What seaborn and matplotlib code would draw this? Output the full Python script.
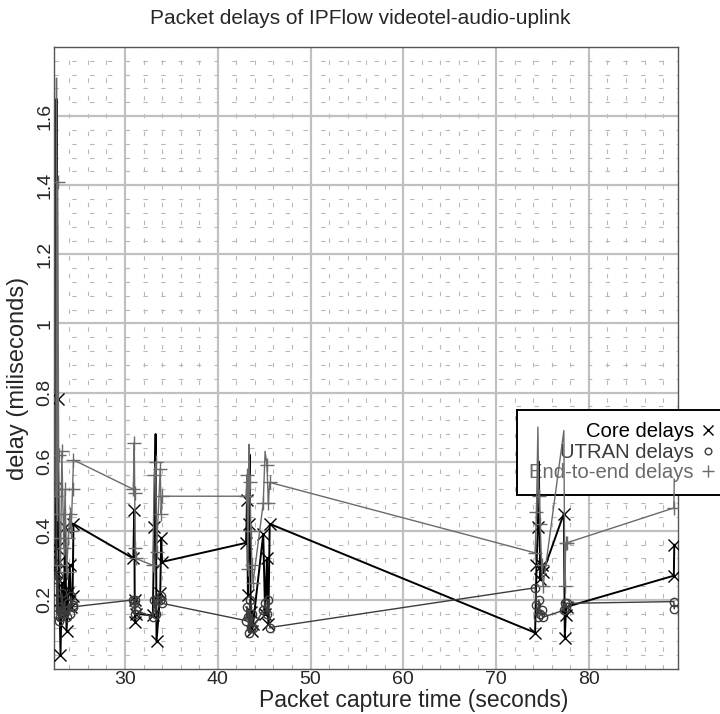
import matplotlib
matplotlib.use("Agg")
import matplotlib.pyplot as plt
import seaborn as sns
import pandas as pd
from matplotlib.ticker import FixedLocator, MultipleLocator, FuncFormatter
from matplotlib.lines import Line2D

# ---- data ----
time_s = [22.55, 22.62, 22.68, 22.75, 22.85, 22.95, 23.05, 23.2, 23.4, 23.55, 23.7, 23.9, 24.05, 24.2, 24.35, 24.45,
          30.9, 31.0, 31.05, 31.1, 31.15,
          33.0, 33.15, 33.3, 33.4, 33.8, 33.9, 34.0,
          43.05, 43.15, 43.25, 43.35, 43.45, 43.55, 43.7, 43.8,
          44.9, 45.1, 45.3, 45.45, 45.6,
          74.2, 74.35, 74.5, 74.6, 74.75, 74.9, 75.05,
          77.3, 77.4, 77.5, 77.6,
          89.15, 89.2]
core_delay = [0.28, 1.65, 0.35, 0.78, 0.31, 0.20, 0.04, 0.25, 0.16, 0.41, 0.11, 0.22, 0.30, 0.18, 0.21, 0.42,
              0.32, 0.46, 0.20, 0.135, 0.16,
              0.155, 0.41, 0.68, 0.08, 0.22, 0.38, 0.31,
              0.365, 0.49, 0.215, 0.42, 0.62, 0.165, 0.11, 0.13,
              0.39, 0.16, 0.32, 0.13, 0.42,
              0.105, 0.30, 0.41, 0.60, 0.26, 0.30, 0.28,
              0.45, 0.09, 0.155, 0.18,
              0.27, 0.36]
utran_delay = [0.26, 0.53, 0.16, 0.27, 0.14, 0.18, 0.15, 0.22, 0.16, 0.17, 0.15, 0.19, 0.16, 0.21, 0.185, 0.18,
               0.20, 0.19, 0.16, 0.20, 0.17,
               0.15, 0.20, 0.16, 0.20, 0.20, 0.21, 0.19,
               0.14, 0.18, 0.15, 0.105, 0.20, 0.12, 0.16, 0.12,
               0.17, 0.19, 0.16, 0.20, 0.12,
               0.235, 0.186, 0.15, 0.20, 0.16, 0.17, 0.15,
               0.17, 0.19, 0.18, 0.19,
               0.195, 0.174]
e2e_delay = [0.50, 1.71, 0.45, 1.41, 0.62, 0.38, 0.30, 0.63, 0.35, 0.52, 0.28, 0.38, 0.45, 0.40, 0.52, 0.605,
             0.52, 0.655, 0.51, 0.35, 0.32,
             0.30, 0.56, 0.60, 0.34, 0.58, 0.45, 0.50,
             0.50, 0.562, 0.29, 0.65, 0.54, 0.40, 0.30, 0.25,
             0.48, 0.63, 0.59, 0.48, 0.54,
             0.336, 0.455, 0.70, 0.50, 0.42, 0.30, 0.24,
             0.69, 0.24, 0.365, 0.365,
             0.466, 0.55]

series_names = ["Core delays", "UTRAN delays", "End-to-end delays"]
x_ticks = [30, 40, 50, 60, 70, 80]
y_ticks = [0.2, 0.4, 0.6, 0.8, 1.0, 1.2, 1.4, 1.6]

df = pd.DataFrame({"t": time_s, "core": core_delay, "utran": utran_delay, "e2e": e2e_delay})

sns.set_style("white")
plt.rcParams["font.family"] = ["Liberation Sans", "DejaVu Sans"]

fig = plt.figure(figsize=(7.2, 7.14), dpi=100)
ax = fig.add_axes([54 / 720, 1 - 669 / 714, (678 - 54) / 720, (669 - 47) / 714])

n = len(time_s)
skip = {"core": {1, 23, 32, 44}, "utran": set(), "e2e": {1, 31, 37, 43, 48, 53}}
styles = [
    ("core", "black", "x", 1.4, 9, 3),
    ("utran", "#3c3c3c", "o", 1.0, 6, 4),
    ("e2e", "#6a6a6a", "+", 1.0, 10, 5),
]
for col, color, marker, lw, ms, z in styles:
    every = [i for i in range(n) if i not in skip[col]]
    sns.lineplot(data=df, x="t", y=col, ax=ax, color=color, marker=marker,
                 markersize=ms, markeredgewidth=1.0, markerfacecolor="none",
                 markeredgecolor=color, linewidth=lw, estimator=None,
                 sort=False, zorder=z, legend=False, markevery=every)

ax.set_xlim(22.35, 89.6)
ax.set_ylim(0.0, 1.80)

ax.xaxis.set_major_locator(FixedLocator(x_ticks))
ax.yaxis.set_major_locator(FixedLocator(y_ticks))
ax.xaxis.set_minor_locator(MultipleLocator(2))
ax.yaxis.set_minor_locator(MultipleLocator(0.04))
ax.yaxis.set_major_formatter(FuncFormatter(lambda v, p: f"{v:g}"))

ax.set_axisbelow(True)
ax.grid(which="major", color="#c0c0c0", linewidth=1.6, linestyle="-")
ax.grid(which="minor", color="#b8b8b8", linewidth=0.8, linestyle=(0, (4, 12)))

ax.tick_params(axis="both", which="major", direction="inout", length=7, width=2.2,
               color="black", labelsize=14)
ax.tick_params(axis="x", which="major", pad=-2)
ax.tick_params(axis="y", which="major", pad=-3)
ax.tick_params(axis="both", which="minor", length=0)
for lab in ax.get_yticklabels():
    lab.set_rotation(90)
    lab.set_va("center")

for s in ax.spines.values():
    s.set_color("#555555")
    s.set_linewidth(1.0)
    s.set_zorder(1)

ax.set_xlabel("Packet capture time (seconds)", fontsize=16.5)
ax.xaxis.set_label_coords((414 - 54) / 624, -(701 - 669) / 622)
ax.xaxis.label.set_va("center")
ax.set_ylabel("delay (miliseconds)", fontsize=17)
ax.yaxis.set_label_coords(-(54 - 18) / 624, (669 - 378) / 622)
ax.yaxis.label.set_va("center")
fig.text(0.5, 1 - 18 / 714, "Packet delays of IPFlow videotel-audio-uplink",
         ha="center", va="center", fontsize=15)

handles = [Line2D([], [], color=c, marker=m, linestyle="none", markersize=ms * 0.8,
                  markerfacecolor="none", markeredgewidth=1.0)
           for _, c, m, _, ms, _ in styles]
leg = ax.legend(handles, series_names, loc="upper left",
                bbox_to_anchor=(517 / 720, 1 - 410 / 714), bbox_transform=fig.transFigure,
                markerfirst=False, fontsize=14.6, frameon=True, fancybox=False,
                handlelength=1.2, handletextpad=0.1, borderpad=0.6, labelspacing=0.08,
                borderaxespad=0)
leg.get_frame().set_edgecolor("black")
leg.get_frame().set_linewidth(1.4)
leg.get_frame().set_facecolor("white")
leg.get_frame().set_alpha(1)
leg.set_zorder(1.5)
for txt, c in zip(leg.get_texts(), ["black", "#3c3c3c", "#6a6a6a"]):
    txt.set_color(c)

fig.savefig("out.png", dpi=100)
